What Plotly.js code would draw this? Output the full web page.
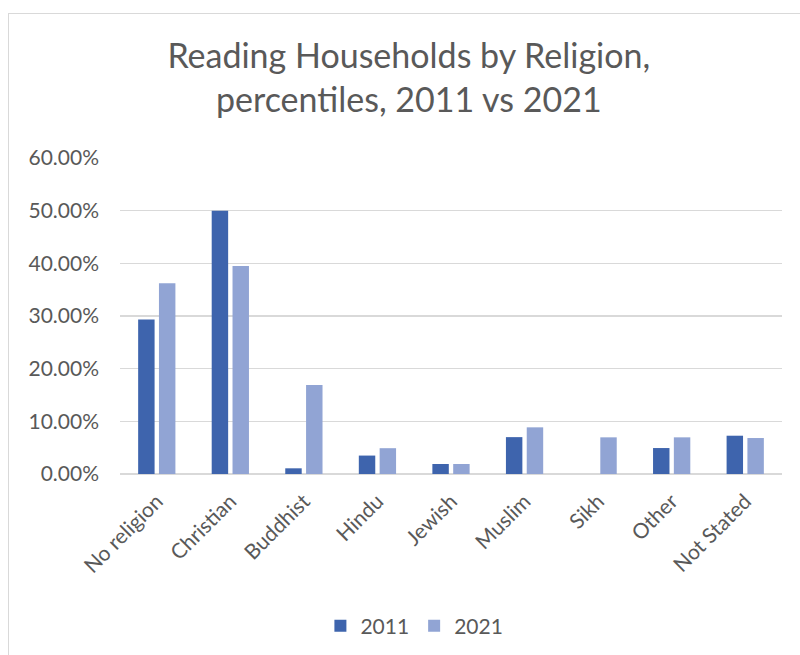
<!DOCTYPE html>
<html>
<head>
<meta charset="utf-8">
<script src="https://cdn.plot.ly/plotly-3.0.1.min.js"></script>
<style>
  html, body { margin: 0; padding: 0; background: #ffffff; }
  #wrap { position: relative; width: 800px; height: 655px; overflow: hidden; }
  #frame { position: absolute; left: 8px; top: 13px; width: 820px; height: 680px;
           border: 1.5px solid #d9d9d9; box-sizing: border-box; pointer-events: none; }
  #chart { position: absolute; left: 0; top: 0; width: 800px; height: 655px; }
</style>
</head>
<body>
<div id="wrap">
  <div id="chart"></div>
  <div id="frame"></div>
</div>
<script>
// Religion categories and the share of Reading households in each
const religions = ["No religion", "Christian", "Buddhist", "Hindu", "Jewish",
                   "Muslim", "Sikh", "Other", "Not Stated"];
const share2011 = [0.2935, 0.500, 0.0108, 0.035, 0.019, 0.070, null, 0.0493, 0.0727];
const share2021 = [0.362, 0.395, 0.169, 0.049, 0.019, 0.0886, 0.0696, 0.0696, 0.0683];
const seriesNames = ["2011", "2021"];
const yTicks = [0, 0.1, 0.2, 0.3, 0.4, 0.5, 0.6];

const textColor = "#595959";
const font = "Lato, 'Open Sans', sans-serif";
const tickSize = 21;

const traces = [
  { type: "bar", name: seriesNames[0], x: religions, y: share2011,
    marker: { color: "#3e64ad", line: { width: 0 } }, hoverinfo: "x+y" },
  { type: "bar", name: seriesNames[1], x: religions, y: share2021,
    marker: { color: "#91a4d4", line: { width: 0 } }, hoverinfo: "x+y" }
];

const layout = {
  width: 800, height: 655,
  paper_bgcolor: "#ffffff", plot_bgcolor: "#ffffff",
  margin: { l: 120, r: 18, t: 158, b: 181 },
  font: { family: font, color: textColor, size: tickSize },
  title: {
    text: "Reading Households by Religion,<br>percentiles, 2011 vs 2021",
    font: { family: font, size: 34, color: textColor },
    x: 0.511, xanchor: "center", xref: "container",
    y: 0.896, yanchor: "top", yref: "container"
  },
  barmode: "group",
  bargap: 0.434,
  bargroupgap: 0.21,
  xaxis: {
    type: "category",
    tickangle: -45,
    tickfont: { family: font, size: tickSize, color: textColor },
    showgrid: false, zeroline: false, showline: false,
    ticks: "", ticklabelstandoff: 10, fixedrange: true, automargin: false
  },
  yaxis: {
    range: [0, 0.6],
    tickvals: yTicks,
    tickformat: ".2%",
    tickfont: { family: font, size: tickSize, color: textColor },
    showgrid: true, gridcolor: "#d9d9d9", gridwidth: 1.5,
    zeroline: true, zerolinecolor: "#d9d9d9", zerolinewidth: 1.5,
    showline: false, ticks: "", ticklabelstandoff: 20, fixedrange: true, automargin: false
  },
  showlegend: true,
  legend: {
    orientation: "h",
    xref: "container", x: 0.518, xanchor: "center",
    yref: "container", y: 0.044, yanchor: "middle",
    font: { family: font, size: tickSize, color: textColor },
    itemwidth: 30, traceorder: "normal"
  }
};

Plotly.newPlot("chart", traces, layout, { displayModeBar: false, staticPlot: true });
</script>
</body>
</html>
